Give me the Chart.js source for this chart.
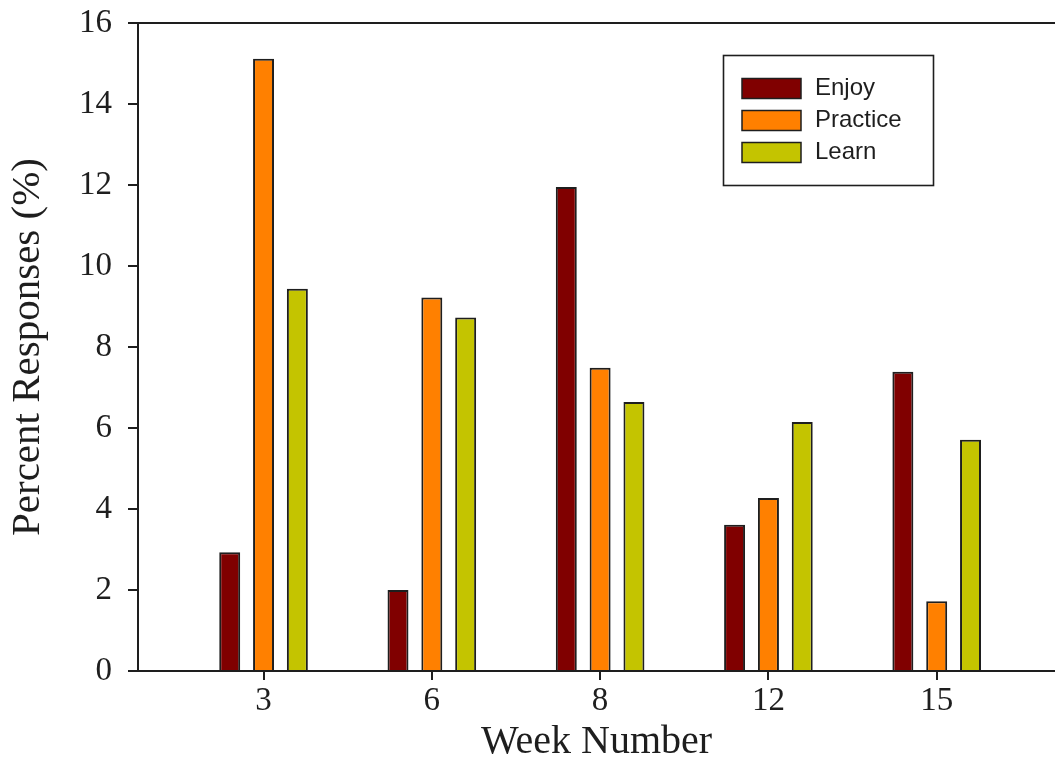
<!DOCTYPE html>
<html>
<head>
<meta charset="utf-8">
<script src="https://cdn.jsdelivr.net/npm/chart.js@4/dist/chart.umd.min.js"></script>
<style>
  html, body { margin: 0; padding: 0; background: #ffffff; overflow: hidden; }
  #wrap { width: 1055px; height: 759px; position: relative; }
</style>
</head>
<body>
<div id="wrap"><canvas id="c" width="1055" height="759"></canvas></div>
<script>
// Week categories along the x axis
const weeks = ['3', '6', '8', '12', '15'];

// Percent responses per week for each theme
const enjoy    = [2.93, 2.00, 11.95, 3.61, 7.39];
const practice = [15.12, 9.22, 7.49, 4.27, 1.72];
const learn    = [9.44, 8.73, 6.64, 6.15, 5.71];

// Series names and fills
const seriesNames  = ['Enjoy', 'Practice', 'Learn'];
const seriesColors = ['#800000', '#ff8000', '#c4c400'];

// Y axis range and step
const yMin = 0, yMax = 16, yStep = 2;

const serif = "'Liberation Serif', 'Times New Roman', serif";
const sans  = "'Liberation Sans', Arial, sans-serif";
const ink   = '#1e1e1e';

const toPoints = arr => arr.map((v, i) => ({ x: i, y: v }));

// Boxed legend in the upper right and the frame line along the top
const framePlugin = {
  id: 'frameAndLegend',
  afterDraw(chart) {
    const { ctx, chartArea } = chart;
    ctx.save();
    // top frame line
    ctx.strokeStyle = ink;
    ctx.lineWidth = 2;
    ctx.beginPath();
    ctx.moveTo(chartArea.left - 1, chartArea.top);
    ctx.lineTo(chartArea.right, chartArea.top);
    ctx.stroke();

    // legend box
    const bx = 723.5, by = 55.5, bw = 210, bh = 130;
    ctx.fillStyle = '#ffffff';
    ctx.fillRect(bx, by, bw, bh);
    ctx.lineWidth = 1.6;
    ctx.strokeStyle = ink;
    ctx.strokeRect(bx, by, bw, bh);

    ctx.font = '24px ' + sans;
    ctx.textBaseline = 'middle';
    ctx.textAlign = 'left';
    chart.data.datasets.forEach((ds, i) => {
      const sy = 78.5 + i * 32;
      ctx.fillStyle = ds.backgroundColor;
      ctx.fillRect(742, sy, 59, 20);
      ctx.lineWidth = 1.5;
      ctx.strokeStyle = ink;
      ctx.strokeRect(742, sy, 59, 20);
      ctx.fillStyle = ink;
      ctx.fillText(ds.label, 815, sy + 10);
    });
    ctx.restore();
  }
};

new Chart(document.getElementById('c'), {
  type: 'bar',
  data: {
    datasets: [
      { label: seriesNames[0], data: toPoints(enjoy),    backgroundColor: seriesColors[0] },
      { label: seriesNames[1], data: toPoints(practice), backgroundColor: seriesColors[1] },
      { label: seriesNames[2], data: toPoints(learn),    backgroundColor: seriesColors[2] }
    ]
  },
  options: {
    responsive: false,
    animation: false,
    events: [],
    layout: { padding: { top: 23, right: 0, left: 0, bottom: 0 } },
    datasets: {
      bar: {
        borderColor: ink,
        borderWidth: 2,
        borderSkipped: 'start',
        categoryPercentage: 0.603,
        barPercentage: 0.62
      }
    },
    plugins: {
      legend: { display: false },
      tooltip: { enabled: false }
    },
    scales: {
      x: {
        type: 'linear',
        min: -0.746,
        max: 4.703,
        offset: false,
        afterBuildTicks(scale) {
          scale.ticks = weeks.map((_, i) => ({ value: i }));
        },
        afterFit(scale) {
          scale.height = 88;
          scale.paddingLeft = 0;
          scale.paddingRight = 0;
        },
        ticks: {
          callback: v => weeks[v],
          font: { family: serif, size: 33 },
          color: ink,
          padding: 2,
          maxRotation: 0,
          autoSkip: false
        },
        grid: {
          offset: false,
          drawOnChartArea: false,
          drawTicks: true,
          tickLength: 9,
          tickColor: ink,
          tickWidth: 2,
          color: ink,
          lineWidth: 2
        },
        border: { display: true, color: ink, width: 2 },
        title: {
          display: true,
          text: 'Week Number',
          font: { family: serif, size: 40, lineHeight: 0.8 },
          color: ink,
          padding: { top: 0, bottom: 1 }
        }
      },
      y: {
        min: yMin,
        max: yMax,
        afterFit(scale) {
          scale.width = 138;
          scale.paddingTop = 0;
          scale.paddingBottom = 0;
        },
        ticks: {
          stepSize: yStep,
          font: { family: serif, size: 33 },
          color: ink,
          padding: 16
        },
        grid: {
          drawOnChartArea: false,
          drawTicks: true,
          tickLength: 10,
          tickColor: ink,
          tickWidth: 2,
          color: ink,
          lineWidth: 2
        },
        border: { display: true, color: ink, width: 2 },
        title: {
          display: true,
          text: 'Percent Responses (%)',
          font: { family: serif, size: 41 },
          color: ink,
          padding: { top: 4, bottom: 0 }
        }
      }
    }
  },
  plugins: [framePlugin]
});
</script>
</body>
</html>
